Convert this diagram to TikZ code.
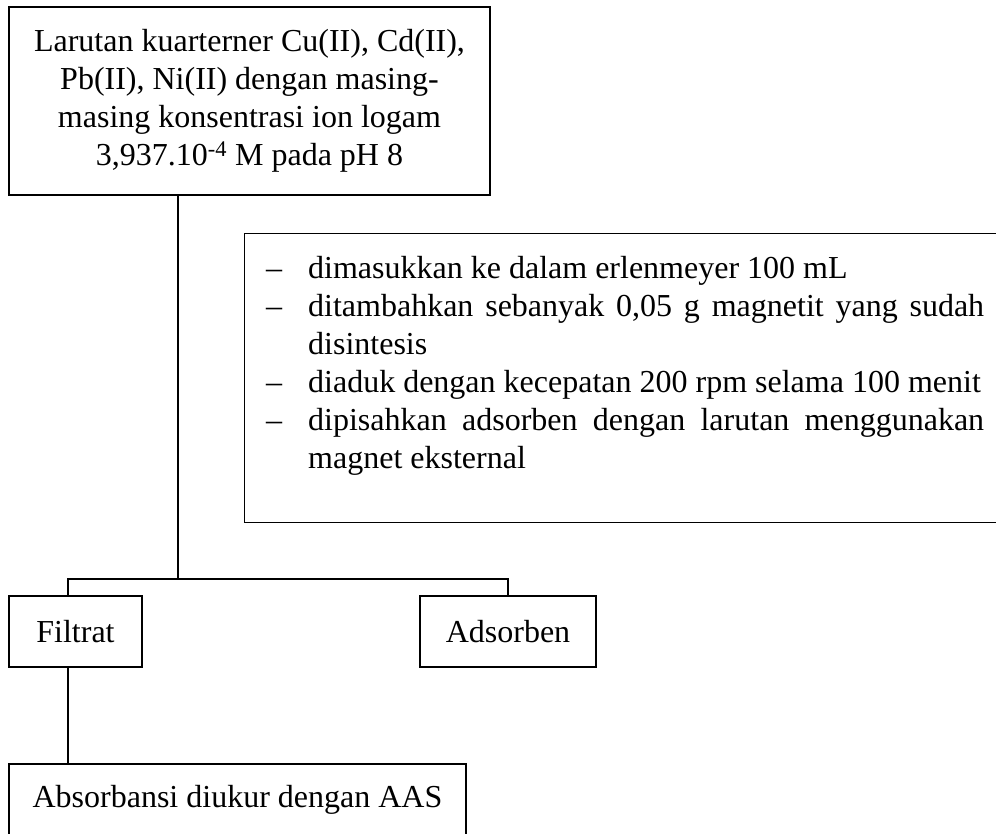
\documentclass[tikz,border=0pt]{standalone}
\usepackage{fontspec}
\setmainfont{Liberation Serif}
\usepackage{tikz}
\usetikzlibrary{positioning,calc}
\newcommand{\butir}[1]{\par\hangindent=42pt\hangafter=1\noindent\makebox[42pt][l]{--}#1}

\begin{document}
\begin{tikzpicture}[x=1pt,y=-1pt,
  kotak/.style={draw,line width=1.4pt,inner sep=0pt,font=\fontsize{32}{38}\selectfont},
  garis/.style={line width=1.1pt}]
  \useasboundingbox (0,0) rectangle (996,833);
  \clip (0,0) rectangle (996,833);
  % larutan awal
  \node[kotak,minimum width=481,minimum height=188,align=center] (larutan) at (249.5,101)
    {Larutan kuarterner Cu(II), Cd(II),\\Pb(II), Ni(II) dengan masing-\\masing konsentrasi ion logam\\3,937.10\textsuperscript{-4} M pada pH 8};
  % langkah kerja (kotak terpotong di kanan)
  \node[kotak,anchor=north west,minimum width=780,minimum height=289] (proses) at (244,233) {};
  \node[anchor=base west,inner sep=0pt,text width=718pt,align=justify,
    font=\fontsize{32}{38}\selectfont] (langkah) at (266,240)
    {\hyphenpenalty=10000
     \butir{dimasukkan ke dalam erlenmeyer 100 mL}
     \butir{ditambahkan sebanyak 0,05 g magnetit yang sudah\linebreak disintesis}
     \butir{diaduk dengan kecepatan 200 rpm selama 100 menit}
     \butir{dipisahkan adsorben dengan larutan menggunakan\linebreak magnet eksternal}\par};
  % hasil pemisahan
  \node[kotak,minimum width=133,minimum height=71] (filtrat) at (75.5,631.5) {Filtrat};
  \node[kotak,minimum width=176,minimum height=71] (adsorben) at (508,631.5) {Adsorben};
  \node[kotak,minimum width=457,minimum height=71] (aas) at (237.5,799.5) {Absorbansi diukur dengan AAS};
  % garis penghubung
  \coordinate (cabang) at (178,579);
  \coordinate (kiri) at (68,579);
  \draw[garis] (larutan.south -| cabang) -- (cabang);
  \draw[garis] (filtrat.north -| kiri) -- (kiri) -- (cabang -| adsorben.north) -- (adsorben.north);
  \draw[garis] (filtrat.south -| kiri) -- (aas.north -| kiri);
\end{tikzpicture}
\end{document}
